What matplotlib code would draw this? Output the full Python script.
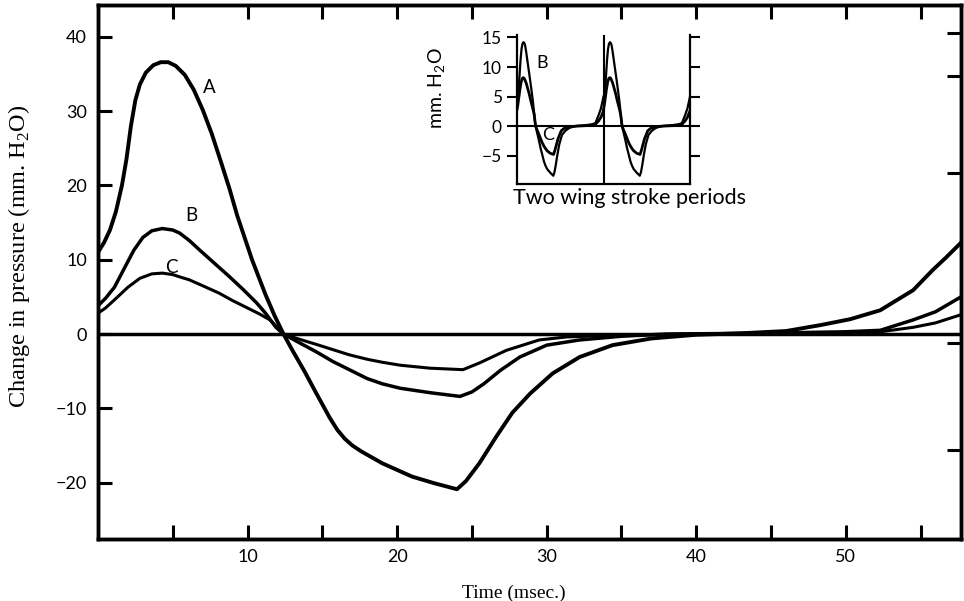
import numpy as np
import matplotlib.pyplot as plt

# curve A (mm H2O vs msec)
t_a = [0, 0.4, 0.8, 1.2, 1.6, 1.9, 2.2, 2.5, 2.8, 3.2, 3.7, 4.2, 4.7, 5.2, 5.8, 6.4,
       7.0, 7.6, 8.2, 8.8, 9.3, 10.3, 11.2, 11.8, 12.4, 13.0, 13.8, 14.6, 15.5, 16.0,
       16.5, 17.0, 17.6, 18.3, 19.0, 20.0, 21.0, 22.5, 24.0, 24.6, 25.5, 26.6, 27.7,
       28.9, 30.4, 32.2, 34.4, 37.0, 40.0, 43.0, 46.0, 48.3, 50.3, 52.3, 54.5, 55.8,
       56.7, 57.7]
v_a = [11.0, 12.3, 14.0, 16.5, 20.0, 23.5, 28.0, 31.5, 33.6, 35.2, 36.2, 36.6, 36.6,
       36.1, 34.9, 32.9, 30.2, 27.0, 23.3, 19.5, 16.0, 10.0, 5.3, 2.5, 0.0, -2.2, -5.0,
       -8.0, -11.3, -12.9, -14.1, -15.0, -15.8, -16.6, -17.4, -18.3, -19.2, -20.1,
       -20.9, -19.8, -17.4, -13.9, -10.6, -8.0, -5.3, -3.1, -1.5, -0.6, -0.1, 0.1, 0.4,
       1.2, 2.0, 3.2, 5.9, 8.6, 10.3, 12.3]

# curve B
t_b = [0, 0.5, 1.1, 1.8, 2.4, 3.0, 3.6, 4.3, 5.0, 5.45, 6.1, 6.8, 7.8, 8.8, 9.7, 10.6,
       11.2, 11.9, 12.4, 13.3, 14.6, 15.7, 16.8, 18.0, 19.0, 20.2, 22.2, 24.2, 25.0,
       25.8, 26.9, 28.2, 30.0, 32.2, 35.0, 38.0, 41.0, 44.0, 47.0, 50.0, 52.3, 54.5,
       56.0, 57.7]
v_b = [3.8, 4.8, 6.3, 9.0, 11.3, 13.0, 13.9, 14.2, 14.0, 13.6, 12.6, 11.3, 9.5, 7.7,
       6.0, 4.2, 2.8, 0.9, 0.0, -1.0, -2.4, -3.7, -4.8, -6.0, -6.7, -7.3, -7.9, -8.4,
       -7.8, -6.7, -4.9, -3.1, -1.5, -0.8, -0.3, 0.0, 0.05, 0.1, 0.2, 0.3, 0.5, 1.9,
       3.0, 5.0]

# curve C
t_c = [0, 0.5, 1.1, 2.0, 2.8, 3.6, 4.3, 5.0, 5.45, 6.1, 7.0, 8.1, 9.0, 9.9, 10.8, 11.5,
       12.4, 13.3, 14.6, 15.7, 16.8, 18.0, 19.0, 20.2, 22.2, 24.4, 25.5, 27.3, 29.5,
       31.3, 34.0, 37.0, 40.0, 44.0, 48.0, 52.3, 54.5, 56.0, 57.7]
v_c = [2.8, 3.5, 4.6, 6.3, 7.5, 8.1, 8.2, 8.0, 7.7, 7.3, 6.5, 5.5, 4.5, 3.6, 2.7, 1.9,
       0.0, -0.6, -1.4, -2.1, -2.8, -3.4, -3.8, -4.2, -4.6, -4.8, -3.9, -2.2, -0.8,
       -0.4, -0.2, -0.1, 0.0, 0.05, 0.1, 0.3, 0.9, 1.5, 2.6]

period = 57.7
x_ticks = [5, 10, 15, 20, 25, 30, 35, 40, 45, 50, 55]
x_labels = ['', '10', '', '20', '', '30', '', '40', '', '50', '']
y_ticks = [-20, -10, 0, 10, 20, 30, 40]
right_ticks = [40.5, 34.8, 21.7, -1.2, -15.6]
inset_ticks = [-5, 0, 5, 10, 15]

sans = ['Lato', 'DejaVu Sans']
serif = ['Liberation Serif', 'DejaVu Serif']

fig = plt.figure(figsize=(9.64, 6.01), dpi=100)
ax = fig.add_axes([98 / 964, 1 - 539 / 601, 863 / 964, 534 / 601])

ax.plot(t_a, v_a, color='black', lw=2.8)
ax.plot(t_b, v_b, color='black', lw=2.5)
ax.plot(t_c, v_c, color='black', lw=2.2)
ax.axhline(0, color='black', lw=2.5)

ax.set_xlim(0, period)
ax.set_ylim(-27.6, 44.3)
for s in ax.spines.values():
    s.set_linewidth(2.5)

ax.set_xticks(x_ticks)
ax.set_xticklabels(x_labels, family=sans, fontsize=13)
ax.set_yticks(y_ticks)
ax.set_yticklabels([str(v).replace('-', '\u2212') for v in y_ticks], family=sans, fontsize=13)
ax.tick_params(axis='both', direction='in', length=10, width=2.2, top=True, pad=7)
ax.tick_params(axis='y', pad=8)

ax2 = ax.twinx()
ax2.set_ylim(ax.get_ylim())
ax2.set_yticks(right_ticks)
ax2.set_yticklabels([])
ax2.tick_params(direction='in', length=10, width=2.2)
for s in ax2.spines.values():
    s.set_linewidth(2.5)

ax.set_xlabel('Time (msec.)', family=serif, fontsize=14)
ax.xaxis.set_label_coords(0.482, -0.085)
ax.set_ylabel(r'Change in pressure (mm. H$_\mathregular{2}$O)', family=serif, fontsize=17.5)
ax.yaxis.set_label_coords(-0.077, 0.53)

ax.text(7.45, 33.2, 'A', family=sans, fontsize=13.5, ha='center', va='center')
ax.text(6.25, 16.0, 'B', family=sans, fontsize=13.5, ha='center', va='center')
ax.text(4.9, 8.9, 'C', family=sans, fontsize=13.5, ha='center', va='center')

# inset: two wing stroke periods
ins = fig.add_axes([517 / 964, 1 - 184 / 601, 173 / 964, 149.5 / 601])
tb = np.array(t_b) / period
tc = np.array(t_c) / period
for k in range(2):
    ins.plot(tb + k, v_b, color='black', lw=1.6)
    ins.plot(tc + k, v_c, color='black', lw=2.0)
ins.axhline(0, color='black', lw=1.5)
ins.axvline(1, color='black', lw=1.5)
ins.set_xlim(0, 2)
ins.set_ylim(-9.8, 15.5)
ins.spines['top'].set_visible(False)
for s in ['left', 'right', 'bottom']:
    ins.spines[s].set_linewidth(1.6)
ins.set_xticks([])
ins.set_yticks(inset_ticks)
ins.set_yticklabels([str(v).replace('-', '\u2212') for v in inset_ticks], family=sans, fontsize=12.5)
ins.tick_params(axis='y', direction='out', length=7, width=1.5, right=True, pad=4)
ins.text(0.29, 10.7, 'B', family=sans, fontsize=13, ha='center', va='center')
ins.text(0.36, -1.5, 'C', family=sans, fontsize=13, ha='center', va='center')
ins.text(-0.46, 0.64, r'mm. H$_\mathregular{2}$O', transform=ins.transAxes, family=sans,
         fontsize=14, rotation=90, ha='center', va='center')
ins.text(0.653, -0.03, 'Two wing stroke periods', transform=ins.transAxes, family=sans,
         fontsize=15.5, ha='center', va='top')

fig.savefig('out.png', dpi=100)
